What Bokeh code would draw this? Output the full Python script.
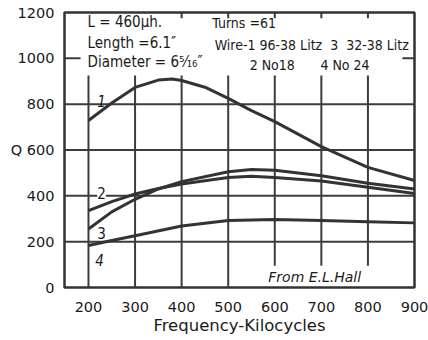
from bokeh.plotting import figure
from bokeh.models import Label, FixedTicker, Range1d
from bokeh.embed import file_html
from bokeh.resources import INLINE

# ---- data ----
freq1 = [200, 250, 300, 350, 380, 400, 450, 500, 550, 600, 700, 800, 900]
q1 = [729, 805, 873, 905, 910, 903, 874, 825, 772, 724, 615, 524, 467]

freq2 = [200, 250, 300, 350, 400, 500, 550, 600, 700, 800, 900]
q2 = [335, 375, 408, 432, 452, 480, 485, 480, 465, 437, 410]

freq3 = [200, 250, 300, 350, 400, 500, 550, 600, 700, 800, 900]
q3 = [255, 330, 385, 430, 462, 505, 515, 512, 488, 455, 430]

freq4 = [200, 250, 300, 400, 500, 600, 700, 800, 900]
q4 = [183, 205, 226, 268, 292, 297, 292, 287, 282]

x_ticks = [200, 300, 400, 500, 600, 700, 800, 900]
y_ticks = [0, 200, 400, 600, 800, 1000, 1200]
y_tick_labels = {600: "Q 600"}

X_MIN, X_MAX = 148.5, 900
Y_MIN, Y_MAX = 0, 1200

FONT = "DejaVu Sans"
FONT_C = "DejaVu Sans Condensed"
INK = "#333333"
GRID = "#3c3c3c"
TXT = "#1a1a1a"

p = figure(width=428, height=340, output_backend="svg", toolbar_location=None,
           x_range=Range1d(X_MIN, X_MAX), y_range=Range1d(Y_MIN, Y_MAX),
           min_border_left=64, min_border_right=14, min_border_top=12, min_border_bottom=53)
p.background_fill_color = "white"
p.border_fill_color = "white"
p.outline_line_color = INK
p.outline_line_width = 2.5
p.xgrid.visible = False
p.ygrid.visible = False

# axes
p.xaxis.ticker = FixedTicker(ticks=x_ticks)
p.yaxis.ticker = FixedTicker(ticks=y_ticks)
p.yaxis.major_label_overrides = y_tick_labels
for ax in (p.xaxis[0], p.yaxis[0]):
    ax.axis_line_color = None
    ax.major_tick_line_color = None
    ax.minor_tick_line_color = None
    ax.major_label_text_font = FONT
    ax.major_label_text_font_size = "14.5px"
    ax.major_label_text_color = TXT
p.xaxis.major_label_standoff = 8
p.yaxis.major_label_standoff = 4
p.xaxis.axis_label = "Frequency-Kilocycles"
p.xaxis.axis_label_text_font = FONT
p.xaxis.axis_label_text_font_size = "16.5px"
p.xaxis.axis_label_text_font_style = "normal"
p.xaxis.axis_label_text_color = TXT
p.xaxis.axis_label_standoff = 1

# grid lines at the inner ticks, broken where the original lettering sits
TEXT_BLOCK_BOTTOM, TEXT_BLOCK_TOP = 925, 1175
CREDIT_TOP = 95
gx = [t for t in x_ticks if X_MIN < t < X_MAX]
gy = [t for t in y_ticks if Y_MIN < t < Y_MAX]
vx0, vy0, vx1, vy1 = [], [], [], []
for t in gx:
    vx0.append(t); vx1.append(t)
    vy0.append(Y_MIN if t <= 500 else CREDIT_TOP); vy1.append(TEXT_BLOCK_BOTTOM)
    if t >= 400:
        vx0.append(t); vx1.append(t); vy0.append(TEXT_BLOCK_TOP); vy1.append(Y_MAX)
hx0, hy0, hx1, hy1 = [], [], [], []
for t in gy:
    if t < TEXT_BLOCK_BOTTOM:
        hx0.append(X_MIN); hx1.append(X_MAX); hy0.append(t); hy1.append(t)
    else:
        hx0 += [X_MIN, 874]; hx1 += [183, X_MAX]; hy0 += [t, t]; hy1 += [t, t]
p.segment(x0=vx0 + hx0, y0=vy0 + hy0, x1=vx1 + hx1, y1=vy1 + hy1,
          line_color=GRID, line_width=2)

# curves
for fx, qy in ((freq1, q1), (freq2, q2), (freq3, q3), (freq4, q4)):
    p.line(fx, qy, line_color=INK, line_width=3)

def lab(x, y, t, size="15px", style="normal", align="left", bg=None, font=FONT_C):
    p.add_layout(Label(x=x, y=y, text=t, text_font=font, text_font_size=size,
                       text_font_style=style, text_align=align, text_baseline="middle",
                       text_color=TXT, background_fill_color=bg,
                       background_fill_alpha=1.0 if bg else 0.0))

NB = "\u00a0"
lab(198, 1160, "L =  460\u03bch.")
lab(198, 1069, "Length =6.1\u2033")
lab(198, 982, "Diameter = 6\u2075\u2044\u2081\u2086\u2033")
lab(466, 1156, "Turns =61", size="14px")
lab(471, 1060, "Wire-1 96-38 Litz" + NB * 2 + "3" + NB * 2 + "32-38 Litz", size="14px")
lab(546, 973, "2 No18", size="14px")
lab(698, 973, "4 No 24", size="14px")
lab(586, 44, "From E.L.Hall", size="14px", style="italic", font=FONT)

lab(228, 816, "1", style="italic", align="center")
lab(228, 414, "2", align="center", bg="white")
lab(228, 240, "3", align="center")
lab(224, 122, "4", style="italic", align="center")

open("out.html", "w").write(file_html(p, INLINE))
